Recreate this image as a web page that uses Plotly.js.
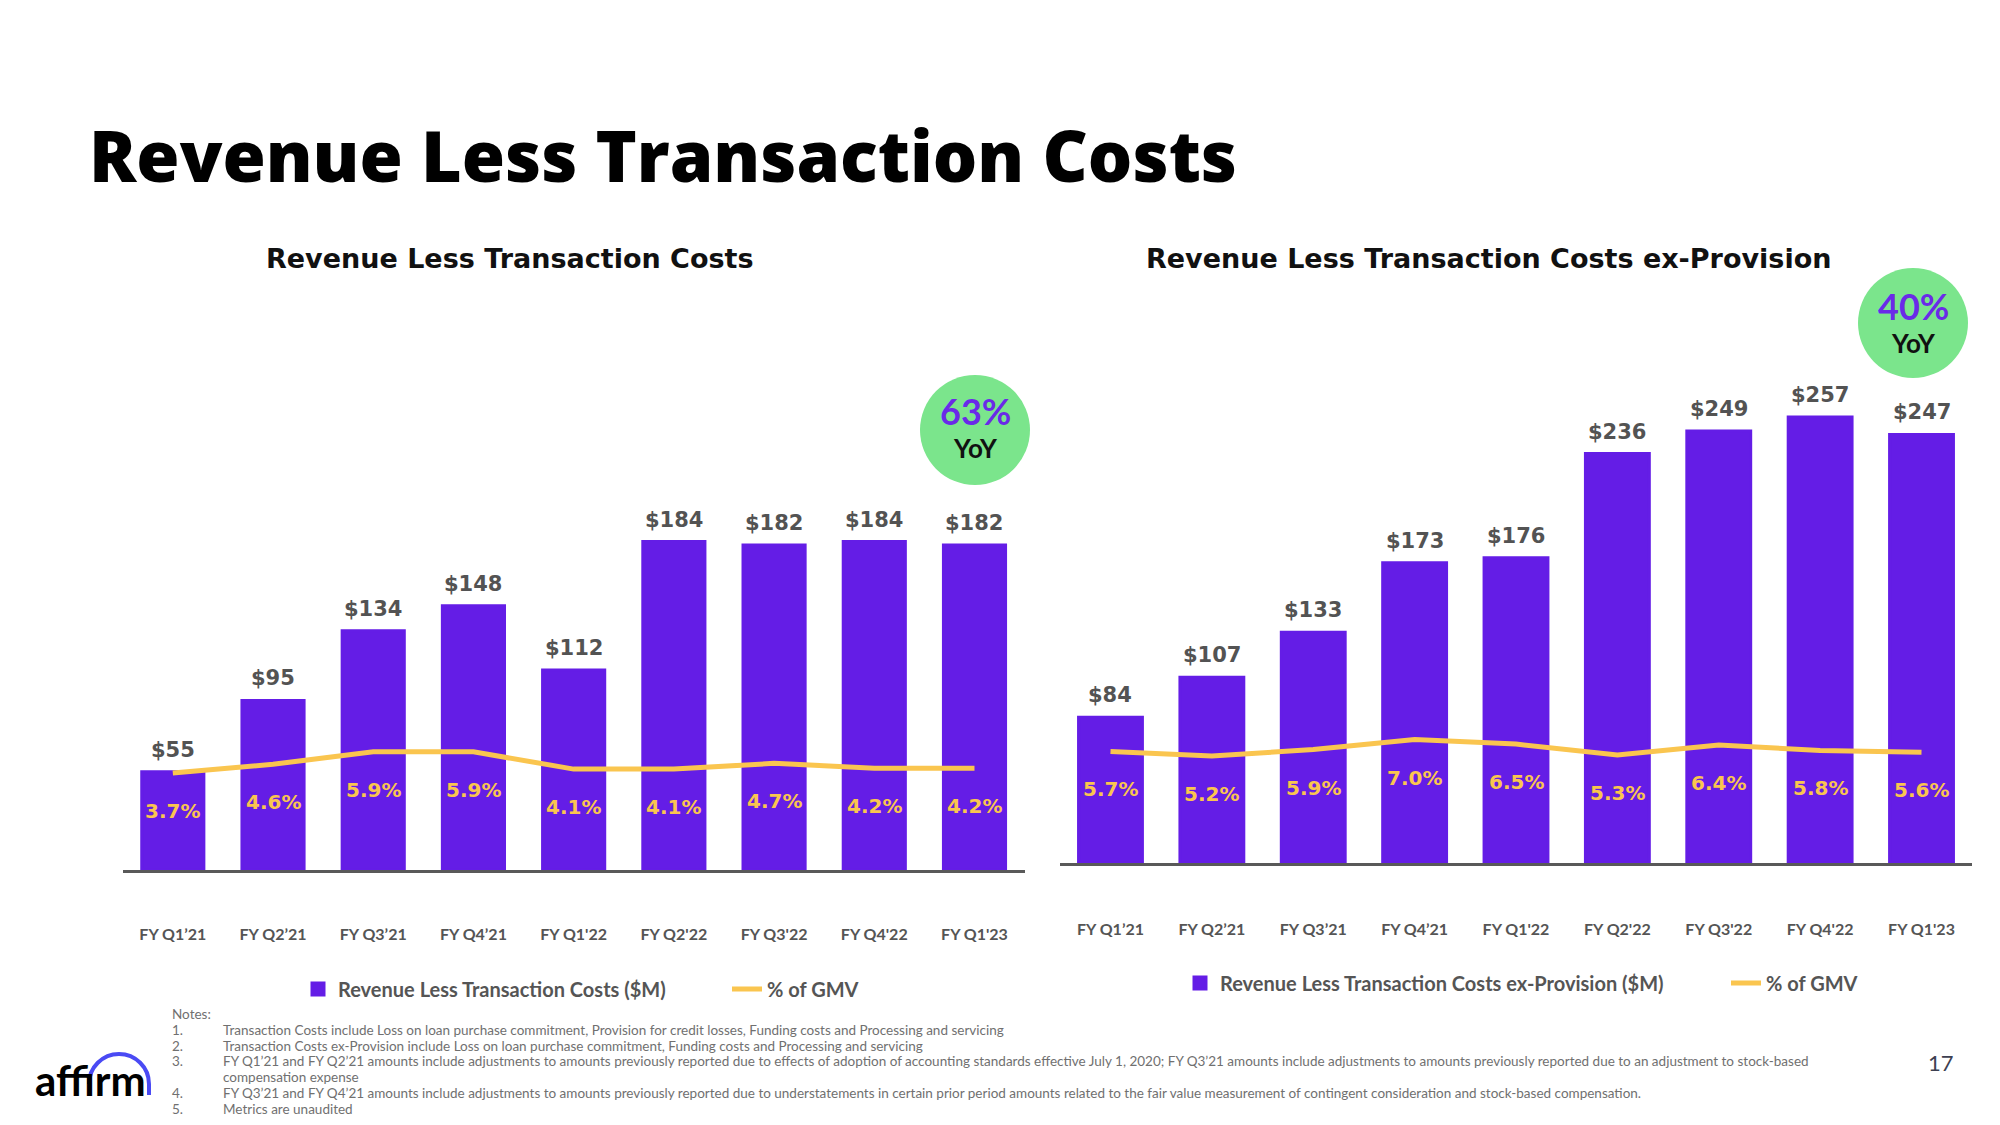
<!DOCTYPE html>
<html>
<head>
<meta charset="utf-8">
<script src="https://cdn.plot.ly/plotly-3.0.1.min.js"></script>
<style>
  html, body { margin: 0; padding: 0; background: #ffffff; }
  #chart { width: 2000px; height: 1125px; }
</style>
</head>
<body>
<div id="chart"></div>
<script>
// ---------------- DATA ----------------
const categories = ["FY Q1\u201921", "FY Q2\u201921", "FY Q3\u201921", "FY Q4\u201921",
                    "FY Q1'22", "FY Q2'22", "FY Q3'22", "FY Q4'22", "FY Q1'23"];
const rltcValues = [55, 95, 134, 148, 112, 184, 182, 184, 182];          // $M
const rltcPctGmv = [3.7, 4.6, 5.9, 5.9, 4.1, 4.1, 4.7, 4.2, 4.2];        // % of GMV
const exProvValues = [84, 107, 133, 173, 176, 236, 249, 257, 247];        // $M
const exProvPctGmv = [5.7, 5.2, 5.9, 7.0, 6.5, 5.3, 6.4, 5.8, 5.6];       // % of GMV
const yoyGrowth = ["63%", "40%"];

const pageTitle = "Revenue Less Transaction Costs";
const leftTitle = "Revenue Less Transaction Costs";
const rightTitle = "Revenue Less Transaction Costs ex-Provision";
const leftBarName = "Revenue Less Transaction Costs ($M)";
const rightBarName = "Revenue Less Transaction Costs ex-Provision ($M)";
const lineName = "% of GMV";
const notes = [
  "Transaction Costs include Loss on loan purchase commitment, Provision for credit losses, Funding costs and Processing and servicing",
  "Transaction Costs ex-Provision include Loss on loan purchase commitment, Funding costs and Processing and servicing",
  "FY Q1\u201921 and FY Q2\u201921 amounts include adjustments to amounts previously reported due to effects of adoption of accounting standards effective July 1, 2020; FY Q3\u201921 amounts include adjustments to amounts previously reported due to an adjustment to stock-based",
  "compensation expense",
  "FY Q3\u201921 and FY Q4\u201921 amounts include adjustments to amounts previously reported due to understatements in certain prior period amounts related to the fair value measurement of contingent consideration and stock-based compensation.",
  "Metrics are unaudited"
];
const noteNumbers = ["1.", "2.", "3.", "", "4.", "5."];

// ---------------- STYLE ----------------
const W = 2000, H = 1125;
const px = x => x / W;
const py = y => 1 - y / H;
const FONT = "Lato, 'Noto Sans', sans-serif";
const WIDE = "'DejaVu Sans', sans-serif";
const TITLE_FONT = "'Open Sans', sans-serif";
const PURPLE = "#641DE6";
const YELLOW = "#FAC54F";
const GREEN = "#7BE58C";
const LABEL_GRAY = "#535353";

const traces = [
  { type: "bar", x: categories, y: rltcValues, xaxis: "x", yaxis: "y",
    name: leftBarName, width: 0.62, legend: "legend",
    marker: { color: PURPLE, line: { color: PURPLE, width: 3 } },
    hoverinfo: "skip", cliponaxis: false },
  { type: "scatter", mode: "lines", x: categories, y: rltcPctGmv, xaxis: "x", yaxis: "y2",
    name: lineName, legend: "legend2",
    line: { color: YELLOW, width: 5 }, hoverinfo: "skip" },
  { type: "bar", x: categories, y: exProvValues, xaxis: "x2", yaxis: "y3",
    name: rightBarName, width: 0.63, legend: "legend3",
    marker: { color: PURPLE, line: { color: PURPLE, width: 3 } },
    hoverinfo: "skip", cliponaxis: false },
  { type: "scatter", mode: "lines", x: categories, y: exProvPctGmv, xaxis: "x2", yaxis: "y4",
    name: lineName, legend: "legend4",
    line: { color: YELLOW, width: 5 }, hoverinfo: "skip" }
];

const annotations = [];
function addValueLabels(values, pcts, xref, yref, yref2) {
  values.forEach((v, i) => {
    annotations.push({ x: categories[i], y: v, xref: xref, yref: yref, text: "$" + v,
      showarrow: false, yshift: 22, yanchor: "middle",
      font: { family: WIDE, size: 21, color: LABEL_GRAY, weight: 700 } });
  });
  pcts.forEach((p, i) => {
    annotations.push({ x: categories[i], y: p, xref: xref, yref: yref2, text: p.toFixed(1) + "%",
      showarrow: false, yshift: -38, yanchor: "middle",
      font: { family: WIDE, size: 20, color: YELLOW, weight: 700 } });
  });
}
addValueLabels(rltcValues, rltcPctGmv, "x", "y", "y2");
addValueLabels(exProvValues, exProvPctGmv, "x2", "y3", "y4");

function paperText(text, x, y, opts) {
  annotations.push(Object.assign({
    text: text, x: px(x), y: py(y), xref: "paper", yref: "paper",
    showarrow: false, xanchor: "left", yanchor: "middle"
  }, opts));
}
// subtitles
paperText(leftTitle, 509, 258, { xanchor: "center", font: { family: WIDE, size: 27, color: "#111111", weight: 700 } });
paperText(rightTitle, 1488, 258, { xanchor: "center", font: { family: WIDE, size: 27, color: "#111111", weight: 700 } });
// YoY bubbles text
paperText(yoyGrowth[0], 975, 411, { xanchor: "center", font: { family: FONT, size: 36, color: "#6A2AE8", weight: 700 } });
paperText("YoY", 975, 448, { xanchor: "center", font: { family: FONT, size: 26, color: "#111111", weight: 700 } });
paperText(yoyGrowth[1], 1913, 306, { xanchor: "center", font: { family: FONT, size: 36, color: "#6A2AE8", weight: 700 } });
paperText("YoY", 1913, 343, { xanchor: "center", font: { family: FONT, size: 26, color: "#111111", weight: 700 } });
// notes
const noteFont = { family: FONT, size: 13.5, color: "#707070" };
paperText("Notes:", 170, 1014, { font: noteFont });
const noteY = [1030, 1045.5, 1061, 1077, 1093, 1108.5];
notes.forEach((t, i) => {
  if (noteNumbers[i]) paperText(noteNumbers[i], 170, noteY[i], { font: noteFont });
  paperText(t, 221, noteY[i], { font: noteFont });
});
// page number
paperText("17", 1941, 1062, { xanchor: "center", font: { family: FONT, size: 22, color: "#3D4051" } });
// logo word
paperText("affirm", 90, 1080, { xanchor: "center", font: { family: FONT, size: 42, color: "#000000", weight: 700 } });

// logo arc (bezier approximation of a half circle)
function arcPath(cx, cy, r, yEnd) {
  const k = 0.5523;
  const P = (x, y) => px(x) + "," + py(y);
  return "M" + P(cx - r, cy) +
    " C" + P(cx - r, cy - k * r) + " " + P(cx - k * r, cy - r) + " " + P(cx, cy - r) +
    " C" + P(cx + k * r, cy - r) + " " + P(cx + r, cy - k * r) + " " + P(cx + r, cy) +
    " L" + P(cx + r, yEnd);
}

const shapes = [
  { type: "circle", xref: "paper", yref: "paper", x0: px(920), x1: px(1030), y0: py(485), y1: py(375),
    fillcolor: GREEN, line: { width: 0 } },
  { type: "circle", xref: "paper", yref: "paper", x0: px(1858), x1: px(1968), y0: py(378), y1: py(268),
    fillcolor: GREEN, line: { width: 0 } },
  { type: "path", xref: "paper", yref: "paper", path: arcPath(119, 1084, 30, 1095),
    line: { color: "#4A4AF4", width: 4 } }
];

const tickFont = { family: FONT, size: 16, color: "#555555", weight: 700 };
const legendFont = { family: FONT, size: 20, color: "#555555", weight: 700 };
function legendAt(x, y) {
  return { x: px(x), y: py(y), xanchor: "left", yanchor: "middle", orientation: "h",
           font: legendFont, bgcolor: "rgba(0,0,0,0)", borderwidth: 0 };
}

const layout = {
  width: W, height: H,
  margin: { l: 0, r: 0, t: 0, b: 0, pad: 0 },
  paper_bgcolor: "#ffffff", plot_bgcolor: "rgba(0,0,0,0)",
  font: { family: FONT },
  showlegend: true,
  title: { text: pageTitle, x: px(89), xanchor: "left", xref: "paper",
           y: py(157), yanchor: "middle", yref: "paper",
           font: { family: TITLE_FONT, size: 70, color: "#000000", weight: 800 } },
  xaxis: { domain: [px(122.7), px(1024.6)], range: [-0.5, 8.5], anchor: "y", type: "category",
           showline: true, linecolor: "#595959", linewidth: 3, ticks: "", showgrid: false,
           zeroline: false, tickfont: tickFont, ticklabelstandoff: 48, fixedrange: true },
  yaxis: { domain: [py(870), py(300)], range: [0, 319.3], anchor: "x", visible: false, fixedrange: true },
  yaxis2: { overlaying: "y", anchor: "x", range: [-6.40, 52.91], visible: false, fixedrange: true },
  xaxis2: { domain: [px(1059.8), px(1972.2)], range: [-0.5, 8.5], anchor: "y3", type: "category",
            showline: true, linecolor: "#595959", linewidth: 3, ticks: "", showgrid: false,
            zeroline: false, tickfont: tickFont, ticklabelstandoff: 50, fixedrange: true },
  yaxis3: { domain: [py(863), py(250)], range: [0, 353.3], anchor: "x2", visible: false, fixedrange: true },
  yaxis4: { overlaying: "y3", anchor: "x2", range: [-6.553, 60.74], visible: false, fixedrange: true },
  legend: legendAt(298, 989),
  legend2: legendAt(727, 989),
  legend3: legendAt(1180, 983),
  legend4: legendAt(1726, 983),
  annotations: annotations,
  shapes: shapes
};

Plotly.newPlot("chart", traces, layout, { staticPlot: true, displayModeBar: false });
</script>
</body>
</html>
